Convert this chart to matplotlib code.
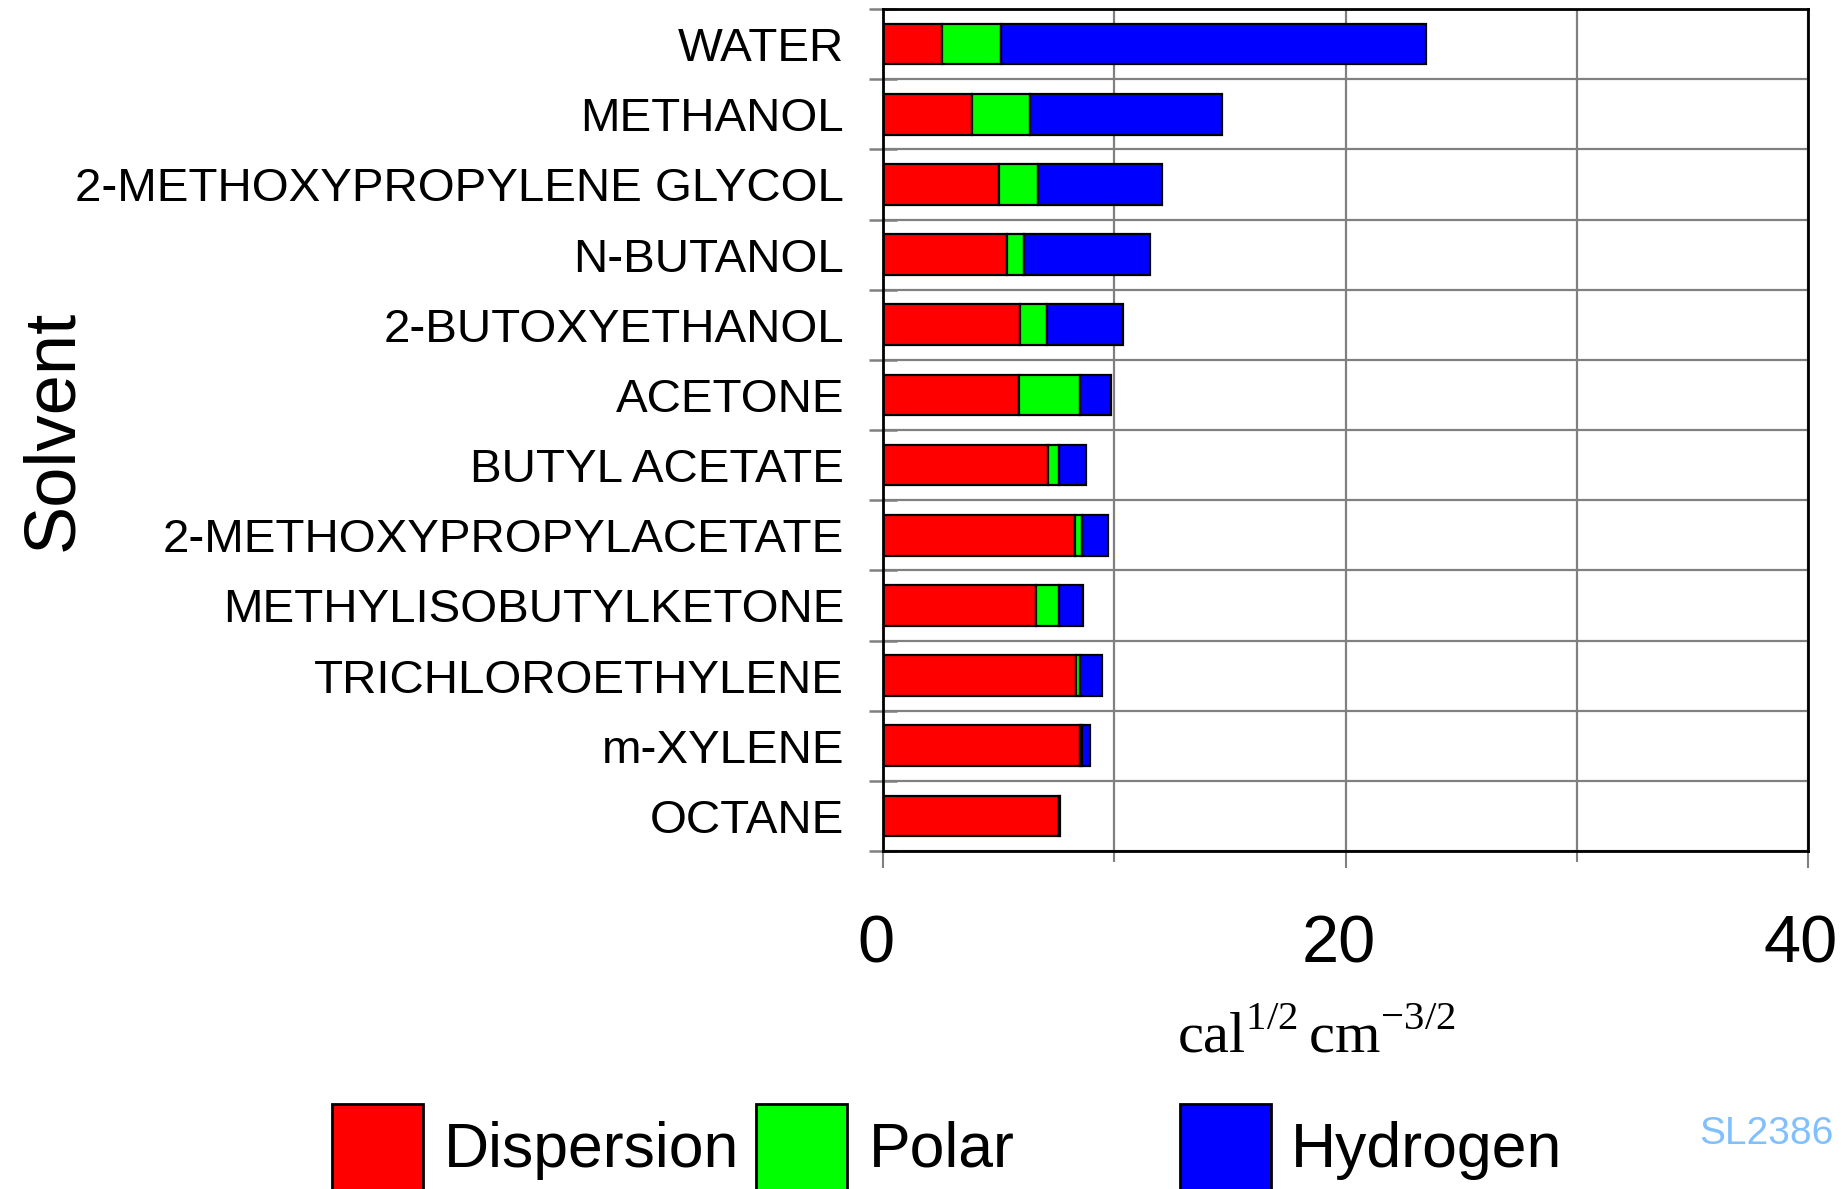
import numpy as np
import matplotlib
matplotlib.use("Agg")
import matplotlib.pyplot as plt
from matplotlib.patches import Rectangle
from matplotlib.transforms import ScaledTranslation

plt.rcParams['font.family'] = ['Liberation Sans', 'DejaVu Sans']
plt.rcParams['mathtext.fontset'] = 'custom'
plt.rcParams['mathtext.rm'] = 'Liberation Serif'

# solvents, top to bottom
solvents = ['WATER', 'METHANOL', '2-METHOXYPROPYLENE GLYCOL', 'N-BUTANOL',
            '2-BUTOXYETHANOL', 'ACETONE', 'BUTYL ACETATE',
            '2-METHOXYPROPYLACETATE', 'METHYLISOBUTYLKETONE',
            'TRICHLOROETHYLENE', 'm-XYLENE', 'OCTANE']
# solubility parameter components (cal^1/2 cm^-3/2)
dispersion = [2.54, 3.86, 5.03, 5.38, 5.94, 5.89, 7.15, 8.30, 6.61, 8.35, 8.54, 7.60]
polar      = [2.57, 2.49, 1.69, 0.70, 1.16, 2.65, 0.48, 0.32, 0.99, 0.19, 0.05, 0.00]
hydrogen   = [18.39, 8.30, 5.33, 5.46, 3.29, 1.31, 1.15, 1.13, 1.05, 0.91, 0.35, 0.05]

series_names = ['Dispersion', 'Polar', 'Hydrogen']
colors = ['#ff0000', '#00ff00', '#0000ff']

W, H = 1841, 1189
fig = plt.figure(figsize=(W / 100, H / 100), dpi=100)
ax = fig.add_axes([883 / W, 1 - 851 / H, (1808 - 883) / W, (851 - 9) / H])

y = np.arange(len(solvents))
left = np.zeros(len(solvents))
for vals, c in zip([dispersion, polar, hydrogen], colors):
    ax.barh(y, vals, left=left, height=0.58, color=c, edgecolor='black',
            linewidth=1.6, zorder=3)
    left = left + np.array(vals)

ax.set_xlim(0, 40)
ax.set_ylim(len(solvents) - 0.5, -0.5)

# x axis: labels at 0/20/40, grid every 10
ax.set_xticks([0, 20, 40])
ax.set_xticks([10, 30], minor=True)
ax.tick_params(axis='x', which='major', direction='out', length=12, width=1.5,
               color='#808080', labelsize=48, pad=34)
ax.tick_params(axis='x', which='minor', direction='out', length=8, width=1.5,
               color='#808080')
off = ScaledTranslation(-7 / 100, 0, fig.dpi_scale_trans)
for lab in ax.get_xticklabels():
    lab.set_transform(lab.get_transform() + off)

# y axis: labels at row centres, ticks+grid at row boundaries
ax.set_yticks(y)
ax.set_yticklabels(solvents)
ax.set_yticks(np.arange(len(solvents) + 1) - 0.5, minor=True)
ax.tick_params(axis='y', which='major', length=0, labelsize=34.2, pad=28)
ax.tick_params(axis='y', which='minor', direction='inout', length=20, width=1.8,
               color='#808080')

ax.grid(True, axis='x', which='both', color='#808080', linewidth=1.6, zorder=0)
ax.grid(True, axis='y', which='minor', color='#808080', linewidth=1.6, zorder=0)
ax.grid(False, axis='y', which='major')
ax.set_axisbelow(True)
for s in ax.spines.values():
    s.set_linewidth(2)
    s.set_color('black')
    s.set_zorder(4)

fig.text(54 / W, 1 - 430 / H, 'Solvent', rotation=90, fontsize=52,
         ha='center', va='center')
fig.text(1316 / W, 1 - 1036 / H, r'$\mathrm{cal}^{1/2}\,\mathrm{cm}^{-3/2}$',
         fontsize=42, ha='center', va='center')

# legend drawn by hand along the bottom edge
patch_x = [332, 756, 1180]
text_x = [444, 869, 1291]
for px, tx, c, name in zip(patch_x, text_x, colors, series_names):
    fig.patches.append(Rectangle((px / W, -0.02), 91 / W, (1189 - 1104) / H + 0.02,
                                 transform=fig.transFigure, facecolor=c,
                                 edgecolor='black', linewidth=2))
    fig.text(tx / W, 1 - 1150 / H, name, fontsize=45, ha='left', va='center')

fig.text(1834 / W, 1 - 1134 / H, 'SL2386', fontsize=28, color='#80c0ff',
         ha='right', va='center')

fig.savefig('out.png', dpi=100)
